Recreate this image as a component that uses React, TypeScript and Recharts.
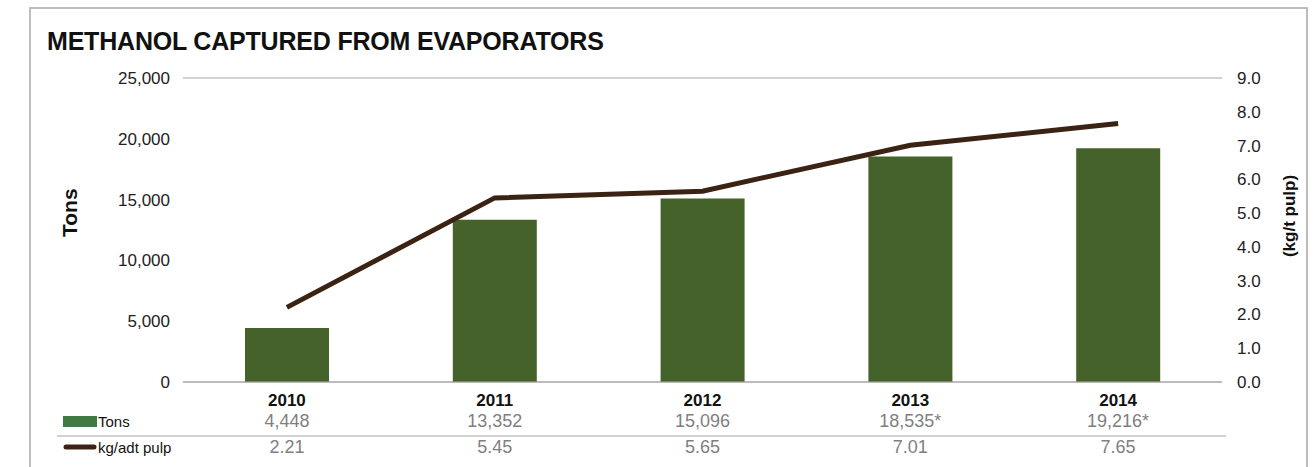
import {
  ComposedChart, Bar, Line, XAxis, YAxis, CartesianGrid,
} from 'recharts';

const years = ['2010', '2011', '2012', '2013', '2014'];
const tons = [4448, 13352, 15096, 18535, 19216];
const tonsLabels = ['4,448', '13,352', '15,096', '18,535*', '19,216*'];
const kgPerTon = [2.21, 5.45, 5.65, 7.01, 7.65];
const kgLabels = ['2.21', '5.45', '5.65', '7.01', '7.65'];
const leftTicks = [0, 5000, 10000, 15000, 20000, 25000];
const rightTicks = [0, 1, 2, 3, 4, 5, 6, 7, 8, 9];

const FONT = '"Liberation Sans", Arial, sans-serif';
const GREEN = '#45622A';
const BROWN = '#3B2314';

const data = years.map((y, i) => ({ year: y, tons: tons[i], kg: kgPerTon[i] }));

// year + the two data-table rows under each category
function TableTick(props: any) {
  const { x, y, payload } = props;
  const i = payload.index;
  return (
    <g fontFamily={FONT}>
      <text x={x} y={y + 16} textAnchor="middle" fontSize={17} fontWeight="bold" fill="#111">
        {payload.value}
      </text>
      <text x={x} y={y + 37} textAnchor="middle" fontSize={18} fill="#7f7f7f">
        {tonsLabels[i]}
      </text>
      <text x={x} y={y + 63} textAnchor="middle" fontSize={18} fill="#7f7f7f">
        {kgLabels[i]}
      </text>
    </g>
  );
}

export default function App() {
  return (
    <div style={{ position: 'absolute', left: 0, top: 0, width: 1316, height: 467, overflow: 'hidden', background: '#fff', fontFamily: FONT }}>
      <div style={{ position: 'absolute', left: 29, top: 7, width: 1275, height: 480, border: '2px solid #bdbdbd' }} />
      <div style={{ position: 'absolute', left: 47, top: 27, fontSize: 25, fontWeight: 'bold', color: '#111', whiteSpace: 'nowrap', letterSpacing: -0.2 }}>
        METHANOL CAPTURED FROM EVAPORATORS
      </div>

      <div style={{ position: 'absolute', left: 0, top: 0 }}>
        <ComposedChart width={1316} height={467} data={data} margin={{ top: 78, right: 0, bottom: 0, left: 0 }}>
          <CartesianGrid vertical={false} stroke="#a6a6a6" strokeWidth={1.2} />
          <XAxis
            dataKey="year"
            height={85}
            axisLine={{ stroke: '#a6a6a6', strokeWidth: 1.2 }}
            tickLine={false}
            interval={0}
            tick={<TableTick />}
          />
          <YAxis
            yAxisId="left"
            width={183}
            domain={[0, 25000]}
            ticks={leftTicks}
            axisLine={false}
            tickLine={false}
            tickMargin={7}
            tickFormatter={(v: number) => v.toLocaleString('en-US')}
            tick={{ fontSize: 17, fill: '#222', fontFamily: FONT }}
          />
          <YAxis
            yAxisId="right"
            orientation="right"
            width={94}
            domain={[0, 9]}
            ticks={rightTicks}
            axisLine={false}
            tickLine={false}
            tickMargin={9}
            tickFormatter={(v: number) => v.toFixed(1)}
            tick={{ fontSize: 17, fill: '#222', fontFamily: FONT, textAnchor: 'start' }}
          />
          <Bar yAxisId="left" dataKey="tons" fill={GREEN} barSize={84} isAnimationActive={false} />
          <Line
            yAxisId="right"
            dataKey="kg"
            stroke={BROWN}
            strokeWidth={5}
            dot={false}
            type="linear"
            isAnimationActive={false}
          />
        </ComposedChart>
      </div>

      <div style={{ position: 'absolute', left: 50, top: 202, width: 40, height: 30, transform: 'rotate(-90deg)', fontSize: 21, fontWeight: 'bold', color: '#111', textAlign: 'center', lineHeight: '30px' }}>
        Tons
      </div>
      <div style={{ position: 'absolute', left: 1225, top: 205, width: 130, height: 22, transform: 'rotate(-90deg)', fontSize: 17, fontWeight: 'bold', color: '#111', textAlign: 'center', lineHeight: '22px', whiteSpace: 'nowrap' }}>
        (kg/t pulp)
      </div>

      {/* data table row labels */}
      <svg style={{ position: 'absolute', left: 0, top: 0 }} width={1316} height={467}>
        <line x1={57} x2={1226} y1={436} y2={436} stroke="#a6a6a6" strokeWidth={1.2} />
        <rect x={63} y={416} width={34} height={11} fill="#3f7a45" />
        <text x={98} y={427} fontSize={15} fill="#111" fontFamily={FONT}>Tons</text>
        <line x1={66} x2={94} y1={447} y2={447} stroke={BROWN} strokeWidth={5} strokeLinecap="round" />
        <text x={98} y={453} fontSize={15} fill="#111" fontFamily={FONT}>kg/adt pulp</text>
      </svg>
    </div>
  );
}
